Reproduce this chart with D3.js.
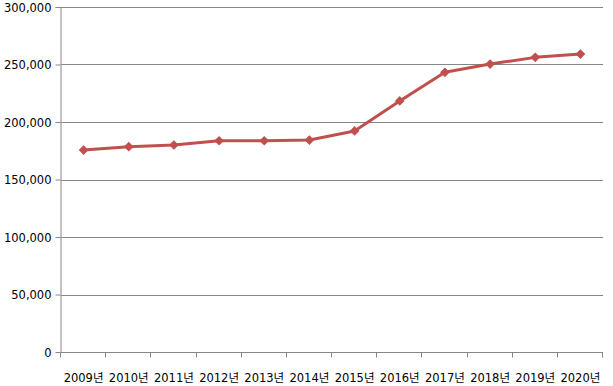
<!DOCTYPE html>
<html>
<head>
<meta charset="utf-8">
<script src="https://cdn.jsdelivr.net/npm/d3@7"></script>
<style>
  body { margin: 0; background: #fff; }
  text { font-family: "DejaVu Sans", "Noto Sans CJK KR", sans-serif; fill: #000; }
</style>
</head>
<body>
<script>
const svgW = 613;
const svgH = 386;

// 데이터
const years = ['2009년', '2010년', '2011년', '2012년', '2013년', '2014년',
               '2015년', '2016년', '2017년', '2018년', '2019년', '2020년'];
const values = [175600, 178500, 180000, 183700, 183700, 184300,
                192200, 218300, 243200, 250400, 256200, 259100];
const yTicks = [0, 50000, 100000, 150000, 200000, 250000, 300000];

const margin = { top: 7, right: 10, bottom: 34, left: 61 };
const w = svgW - margin.left - margin.right;
const h = svgH - margin.top - margin.bottom;

const svg = d3.select('body').append('svg')
  .attr('width', svgW)
  .attr('height', svgH);

const g = svg.append('g')
  .attr('transform', `translate(${margin.left}, ${margin.top})`);

const x = d3.scaleBand().domain(years).range([0, w]);
const y = d3.scaleLinear().domain([0, 300000]).range([h, 0]);

// 그리드
g.selectAll('.grid')
  .data(yTicks.slice(1))
  .enter().append('line')
  .attr('x1', 0).attr('x2', w)
  .attr('y1', d => Math.round(y(d)) + 0.5)
  .attr('y2', d => Math.round(y(d)) + 0.5)
  .attr('stroke', '#868686');

// y축
const yAxis = g.append('g')
  .attr('transform', 'translate(-0.5, 0)')
  .call(d3.axisLeft(y).tickValues(yTicks).tickSize(5).tickFormat(d3.format(',')));
yAxis.select('.domain').attr('stroke', '#868686').attr('d', `M-5,0.5H0.5V${h + 0.5}`);
yAxis.selectAll('.tick line').attr('stroke', '#868686');
yAxis.selectAll('.tick text').attr('x', -9).attr('font-size', 11.5).attr('dy', '0.35em');

// x축 (눈금은 카테고리 경계)
const xg = g.append('g').attr('transform', `translate(0, ${h + 0.5})`);
xg.append('line').attr('x1', 0).attr('x2', w).attr('stroke', '#868686');
xg.selectAll('.xt')
  .data(years.concat(['end']))
  .enter().append('line')
  .attr('x1', (d, i) => Math.round(i * x.step()) - 0.5)
  .attr('x2', (d, i) => Math.round(i * x.step()) - 0.5)
  .attr('y1', 0).attr('y2', 5)
  .attr('stroke', '#868686');
xg.selectAll('text')
  .data(years)
  .enter().append('text')
  .attr('x', d => x(d) + x.bandwidth() / 2)
  .attr('y', 29)
  .attr('text-anchor', 'middle')
  .attr('font-size', 11.5)
  .text(d => d);

// 선
const line = d3.line()
  .x((d, i) => x(years[i]) + x.bandwidth() / 2)
  .y(d => y(d));

g.append('path')
  .datum(values)
  .attr('d', line)
  .attr('fill', 'none')
  .attr('stroke', '#C0504D')
  .attr('stroke-width', 3)
  .attr('stroke-linejoin', 'round');

g.selectAll('.pt')
  .data(values)
  .enter().append('path')
  .attr('d', d3.symbol().type(d3.symbolDiamond2).size(60))
  .attr('transform', (d, i) => `translate(${x(years[i]) + x.bandwidth() / 2}, ${y(d)})`)
  .attr('fill', '#C0504D');
</script>
</body>
</html>
